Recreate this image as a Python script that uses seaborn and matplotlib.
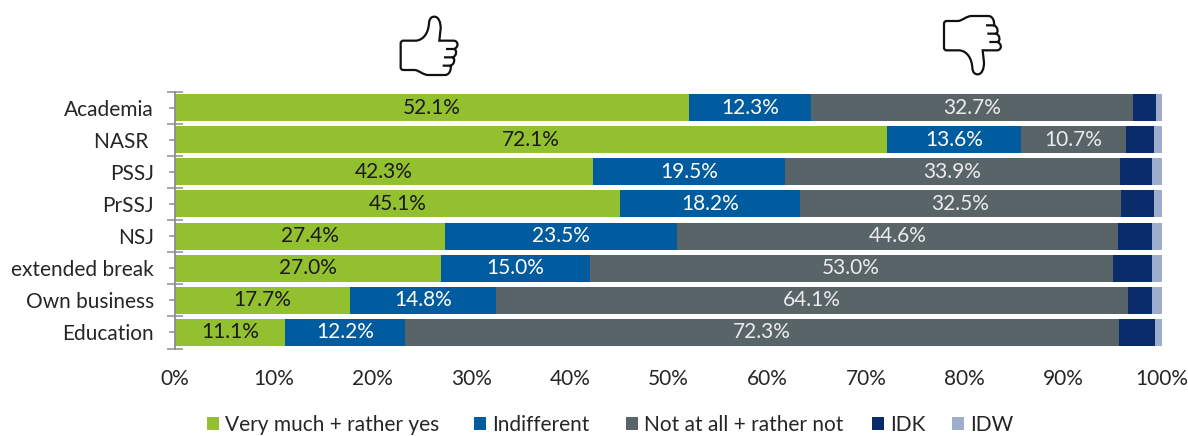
import numpy as np
import pandas as pd
import matplotlib
matplotlib.use("Agg")
import matplotlib.pyplot as plt
from matplotlib.path import Path
from matplotlib.patches import PathPatch, Patch
from matplotlib.transforms import Affine2D
import seaborn as sns

categories = ["Academia", "NASR ", "PSSJ", "PrSSJ", "NSJ", "extended break", "Own business", "Education"]
very_much = [52.1, 72.1, 42.3, 45.1, 27.4, 27.0, 17.7, 11.1]
indifferent = [12.3, 13.6, 19.5, 18.2, 23.5, 15.0, 14.8, 12.2]
not_at_all = [32.7, 10.7, 33.9, 32.5, 44.6, 53.0, 64.1, 72.3]
idk = [2.3, 2.75, 3.3, 3.35, 3.5, 4.0, 2.4, 3.7]
idw = [0.6, 0.85, 1.0, 0.85, 1.0, 1.0, 1.0, 0.7]
series_names = ["Very much + rather yes", "Indifferent", "Not at all + rather not", "IDK", "IDW"]
series_values = [very_much, indifferent, not_at_all, idk, idw]
series_colors = ["#93C02E", "#005C9E", "#586467", "#0B2C6B", "#9EADCB"]
label_colors = ["#1A1A1A", "white", "#ECECEC", None, None]
legend_px = [207, 474, 626, 872, 952]
axis_color = "#8E8E8E"
text_color = "#262626"

sns.set_theme(style="white")
plt.rcParams["font.family"] = ["Lato", "DejaVu Sans"]

W, H = 1188, 436
fig = plt.figure(figsize=(W / 100, H / 100), dpi=100)
ax = fig.add_axes([175 / W, 1 - 348.5 / H, 987 / W, 257 / H])

left = np.zeros(len(categories))
for name, vals, col in zip(series_names, series_values, series_colors):
    df = pd.DataFrame({"cat": categories, "val": vals})
    sns.barplot(data=df, y="cat", x="val", order=categories, color=col, saturation=1,
                width=0.84, left=left, errorbar=None, ax=ax, linewidth=0)
    left = left + np.array(vals)

for cont, col in zip(ax.containers, label_colors):
    if col is not None:
        ax.bar_label(cont, fmt="%.1f%%", label_type="center", color=col, fontsize=15)

ax.set_xlim(0, 100)
ax.set_ylim(len(categories) - 0.5, -0.5)
ax.set_xlabel("")
ax.set_ylabel("")
ax.set_xticks(np.arange(0, 101, 10))
ax.set_xticklabels([f"{v}%" for v in range(0, 101, 10)], fontsize=15, color=text_color)
ax.tick_params(axis="x", length=0, pad=14.5)
ax.set_yticks(np.arange(len(categories)))
ax.set_yticklabels(categories, fontsize=15, color=text_color)
ax.set_yticks(np.arange(-0.5, len(categories)), minor=True)
ax.tick_params(axis="y", which="major", direction="out", length=4.3, width=1.1, color=axis_color, pad=11, left=True)
ax.tick_params(axis="y", which="minor", direction="inout", length=11.5, width=1.1, color=axis_color, left=True)
for s in ["top", "right", "bottom"]:
    ax.spines[s].set_visible(False)
ax.spines["left"].set_color(axis_color)
ax.spines["left"].set_linewidth(1.3)
ax.set_axisbelow(False)

for n, c, px in zip(series_names, series_colors, legend_px):
    fig.legend(handles=[Patch(facecolor=c, edgecolor="none", label=n)], loc="center left",
               bbox_to_anchor=(px / W, 1 - 425 / H), frameon=False, fontsize=15, labelcolor=text_color,
               handlelength=0.58, handleheight=0.58, handletextpad=0.28, borderpad=0, borderaxespad=0)

# Decorative thumb icons, outlined in pixel space of the 3x crop
verts = [(62, 130), (62, 122), (70, 122), (108, 122), (130, 120), (145, 100), (147, 70),
         (148, 55), (155, 50), (163, 50), (175, 50), (182, 65), (182, 85), (178, 122), (222, 122),
         (236, 124), (236, 142), (222, 147), (232, 150), (230, 168), (218, 172),
         (226, 176), (224, 192), (212, 197), (214, 205), (210, 225), (195, 225), (145, 225),
         (130, 225), (118, 212), (105, 210), (70, 210), (62, 210), (62, 202), (62, 130),
         (222, 147), (198, 147), (218, 172), (192, 172), (212, 197), (188, 197)]
C3, C4, L, M = Path.CURVE3, Path.CURVE4, Path.LINETO, Path.MOVETO
codes = [M, C3, C3, L, C4, C4, C4, C4, C4, C4, C4, C4, C4, L, L,
         C4, C4, C4, C4, C4, C4, C4, C4, C4, C4, C4, C4, L,
         C4, C4, C4, L, C3, C3, L, M, L, M, L, M, L]
icon = Path(verts, codes)
up = Affine2D().scale(1 / 3, -1 / 3).translate(380, H)
down = Affine2D().translate(-5, 0).scale(1 / 3, 1 / 3).translate(925, H - 273 / 3)
for tr in (up, down):
    fig.add_artist(PathPatch(icon, transform=tr, facecolor="none", edgecolor="#111111", lw=1.6))

fig.savefig("out.png", dpi=100)
